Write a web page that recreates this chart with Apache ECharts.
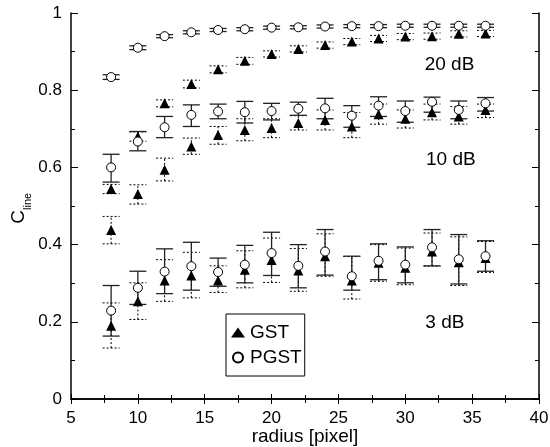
<!DOCTYPE html>
<html>
<head>
<meta charset="utf-8">
<script src="https://cdn.jsdelivr.net/npm/echarts@6/dist/echarts.min.js"></script>
<style>
html,body{margin:0;padding:0;background:#fff;}
#chart{width:550px;height:447px;}
</style>
</head>
<body>
<div id="chart"></div>
<script>
// ---- data ----
var radius = [8, 10, 12, 14, 16, 18, 20, 22, 24, 26, 28, 30, 32, 34, 36];

// 20 dB
var gst20     = [0.544, 0.680, 0.766, 0.816, 0.854, 0.876, 0.894, 0.907, 0.917, 0.926, 0.934, 0.939, 0.940, 0.946, 0.947];
var gst20Lo   = [0.532, 0.668, 0.757, 0.806, 0.845, 0.867, 0.886, 0.899, 0.909, 0.918, 0.926, 0.931, 0.932, 0.938, 0.939];
var gst20Hi   = [0.556, 0.692, 0.775, 0.826, 0.863, 0.885, 0.902, 0.915, 0.925, 0.934, 0.942, 0.947, 0.948, 0.954, 0.955];
var pgst20    = [0.834, 0.910, 0.940, 0.950, 0.956, 0.958, 0.962, 0.963, 0.965, 0.966, 0.966, 0.967, 0.967, 0.967, 0.967];
var pgst20Lo  = [0.828, 0.905, 0.936, 0.946, 0.952, 0.954, 0.958, 0.959, 0.961, 0.962, 0.962, 0.963, 0.963, 0.963, 0.963];
var pgst20Hi  = [0.840, 0.915, 0.944, 0.954, 0.960, 0.962, 0.966, 0.967, 0.969, 0.970, 0.970, 0.971, 0.971, 0.971, 0.971];

// 10 dB
var gst10     = [0.438, 0.531, 0.594, 0.654, 0.684, 0.697, 0.702, 0.715, 0.723, 0.706, 0.738, 0.726, 0.743, 0.732, 0.749];
var gst10Lo   = [0.402, 0.505, 0.565, 0.634, 0.660, 0.669, 0.677, 0.697, 0.697, 0.677, 0.712, 0.702, 0.723, 0.712, 0.729];
var gst10Hi   = [0.473, 0.555, 0.624, 0.676, 0.706, 0.726, 0.726, 0.734, 0.749, 0.742, 0.764, 0.749, 0.764, 0.758, 0.764];
var pgst10    = [0.600, 0.667, 0.704, 0.736, 0.745, 0.743, 0.746, 0.752, 0.753, 0.734, 0.760, 0.746, 0.770, 0.749, 0.766];
var pgst10Lo  = [0.562, 0.643, 0.677, 0.706, 0.726, 0.715, 0.723, 0.735, 0.726, 0.704, 0.732, 0.717, 0.743, 0.726, 0.746];
var pgst10Hi  = [0.634, 0.693, 0.732, 0.762, 0.764, 0.771, 0.766, 0.769, 0.779, 0.760, 0.783, 0.772, 0.782, 0.772, 0.781];

// 3 dB
var gst3      = [0.190, 0.253, 0.307, 0.320, 0.307, 0.335, 0.360, 0.333, 0.370, 0.307, 0.353, 0.340, 0.382, 0.354, 0.365];
var gst3Lo    = [0.132, 0.206, 0.253, 0.262, 0.276, 0.288, 0.302, 0.279, 0.318, 0.259, 0.305, 0.296, 0.344, 0.294, 0.328];
var gst3Hi    = [0.249, 0.301, 0.361, 0.380, 0.345, 0.384, 0.417, 0.390, 0.428, 0.369, 0.400, 0.391, 0.430, 0.420, 0.408];
var pgst3     = [0.229, 0.288, 0.330, 0.344, 0.329, 0.348, 0.378, 0.345, 0.382, 0.318, 0.358, 0.348, 0.393, 0.362, 0.370];
var pgst3Lo   = [0.163, 0.245, 0.273, 0.282, 0.292, 0.301, 0.320, 0.288, 0.321, 0.282, 0.309, 0.301, 0.345, 0.298, 0.331];
var pgst3Hi   = [0.294, 0.331, 0.389, 0.406, 0.365, 0.398, 0.432, 0.400, 0.439, 0.370, 0.402, 0.394, 0.439, 0.426, 0.410];

var xTicks = [5, 10, 15, 20, 25, 30, 35, 40];
var yTicks = [0, 0.2, 0.4, 0.6, 0.8, 1];

var annotations = [
  { text: '20 dB', x: 31.45, y: 0.865 },
  { text: '10 dB', x: 31.55, y: 0.620 },
  { text: '3 dB',  x: 31.5,  y: 0.198 }
];

// ---- build ----
function pts(vals) { return vals.map(function (v, i) { return [radius[i], v]; }); }
function bars(lo, hi) { return lo.map(function (v, i) { return [radius[i], v, hi[i]]; }); }

var gstPts  = pts(gst20).concat(pts(gst10), pts(gst3));
var pgstPts = pts(pgst20).concat(pts(pgst10), pts(pgst3));
var gstBars  = bars(gst20Lo, gst20Hi).concat(bars(gst10Lo, gst10Hi), bars(gst3Lo, gst3Hi));
var pgstBars = bars(pgst20Lo, pgst20Hi).concat(bars(pgst10Lo, pgst10Hi), bars(pgst3Lo, pgst3Hi));

var FONT = '"Liberation Sans", Arial, Helvetica, sans-serif';

function errRender(dashed, color, width) {
  return function (params, api) {
    var x = api.value(0);
    var lo = api.coord([x, api.value(1)]);
    var hi = api.coord([x, api.value(2)]);
    var hw = 8.5;
    var st = { stroke: color, lineWidth: width, lineDash: dashed ? [2, 2] : null, fill: null };
    return {
      type: 'group',
      children: [
        { type: 'line', shape: { x1: lo[0], y1: lo[1], x2: hi[0], y2: hi[1] }, style: st },
        { type: 'line', shape: { x1: lo[0] - hw, y1: lo[1], x2: lo[0] + hw, y2: lo[1] }, style: st },
        { type: 'line', shape: { x1: hi[0] - hw, y1: hi[1], x2: hi[0] + hw, y2: hi[1] }, style: st }
      ]
    };
  };
}

var chart = echarts.init(document.getElementById('chart'), null, { renderer: 'canvas' });

var axisLine = { show: true, lineStyle: { color: '#000', width: 1.5 } };

var option = {
  animation: false,
  backgroundColor: '#fff',
  textStyle: { fontFamily: FONT },
  grid: { left: 71, right: 11, top: 13, bottom: 48, containLabel: false, outerBoundsMode: 'none' },
  legend: {
    data: ['GST', 'PGST'],
    orient: 'vertical',
    left: 226, top: 314,
    padding: [9, 3, 9, 5],
    itemWidth: 14, itemHeight: 10, itemGap: 6,
    borderColor: '#000', borderWidth: 1,
    textStyle: { fontSize: 19, color: '#000', fontFamily: FONT },
    selectedMode: false
  },
  xAxis: [{
    type: 'value', min: 5, max: 40, interval: 5,
    name: 'radius [pixel]', nameLocation: 'middle', nameGap: 28, nameMoveOverlap: false,
    nameTextStyle: { fontSize: 19, color: '#000', fontFamily: FONT },
    axisLine: axisLine,
    axisTick: { show: true, inside: true, length: 5, lineStyle: { color: '#000', width: 1 } },
    minorTick: { show: true, splitNumber: 2, length: 4, lineStyle: { color: '#000', width: 1 } },
    axisLabel: { fontSize: 17, color: '#000', margin: 11, fontFamily: FONT,
      formatter: function (v) { return xTicks.indexOf(v) >= 0 ? String(v) : ''; } },
    splitLine: { show: false }
  }, {
    type: 'value', min: 5, max: 40, interval: 5, position: 'top',
    axisLine: axisLine,
    axisTick: { show: true, inside: true, length: 5, lineStyle: { color: '#000', width: 1 } },
    minorTick: { show: true, splitNumber: 2, length: 4, lineStyle: { color: '#000', width: 1 } },
    axisLabel: { show: false }, splitLine: { show: false }
  }],
  yAxis: [{
    type: 'value', min: 0, max: 1, interval: 0.2,
    axisLine: axisLine,
    axisTick: { show: true, inside: true, length: 7, lineStyle: { color: '#000', width: 1 } },
    minorTick: { show: true, splitNumber: 2, length: 4, lineStyle: { color: '#000', width: 1 } },
    axisLabel: { fontSize: 17, color: '#000', margin: 9, fontFamily: FONT,
      formatter: function (v) { var r = Math.round(v * 10) / 10; return yTicks.indexOf(r) >= 0 ? String(r) : ''; } },
    splitLine: { show: false }
  }, {
    type: 'value', min: 0, max: 1, interval: 0.2, position: 'right',
    axisLine: axisLine,
    axisTick: { show: true, inside: true, length: 7, lineStyle: { color: '#000', width: 1 } },
    minorTick: { show: true, splitNumber: 2, length: 4, lineStyle: { color: '#000', width: 1 } },
    axisLabel: { show: false }, splitLine: { show: false }
  }],
  series: [
    { name: 'GST err', type: 'custom', renderItem: errRender(true, '#000', 1), data: gstBars, z: 2, silent: true,
      encode: { x: 0, y: [1, 2] } },
    { name: 'PGST err', type: 'custom', renderItem: errRender(false, '#222', 1.3), data: pgstBars, z: 3, silent: true,
      encode: { x: 0, y: [1, 2] } },
    { name: 'GST', type: 'scatter', symbol: 'triangle', symbolSize: 10, data: gstPts, z: 4,
      itemStyle: { color: '#000', opacity: 1 } },
    { name: 'PGST', type: 'scatter', symbol: 'circle', symbolSize: 9, data: pgstPts, z: 5,
      itemStyle: { color: '#fff', borderColor: '#000', borderWidth: 1, opacity: 1 } }
  ]
};

chart.setOption(option);

// annotations and y-axis title
var gfx = annotations.map(function (a) {
  var p = chart.convertToPixel({ gridIndex: 0 }, [a.x, a.y]);
  return { type: 'text', x: p[0], y: p[1], z: 10,
    style: { text: a.text, font: '19px ' + FONT, fill: '#000', textAlign: 'left', textVerticalAlign: 'middle' } };
});
gfx.push({
  type: 'group', x: 19, y: 217, rotation: Math.PI / 2, z: 10,
  children: [
    { type: 'text', x: 0, y: 0, style: { text: 'C', font: '19px ' + FONT, fill: '#000', textAlign: 'center', textVerticalAlign: 'middle' } },
    { type: 'text', x: 7, y: 9, style: { text: 'line', font: '11px ' + FONT, fill: '#000', textAlign: 'left', textVerticalAlign: 'middle' } }
  ]
});
chart.setOption({ graphic: gfx });
</script>
</body>
</html>
